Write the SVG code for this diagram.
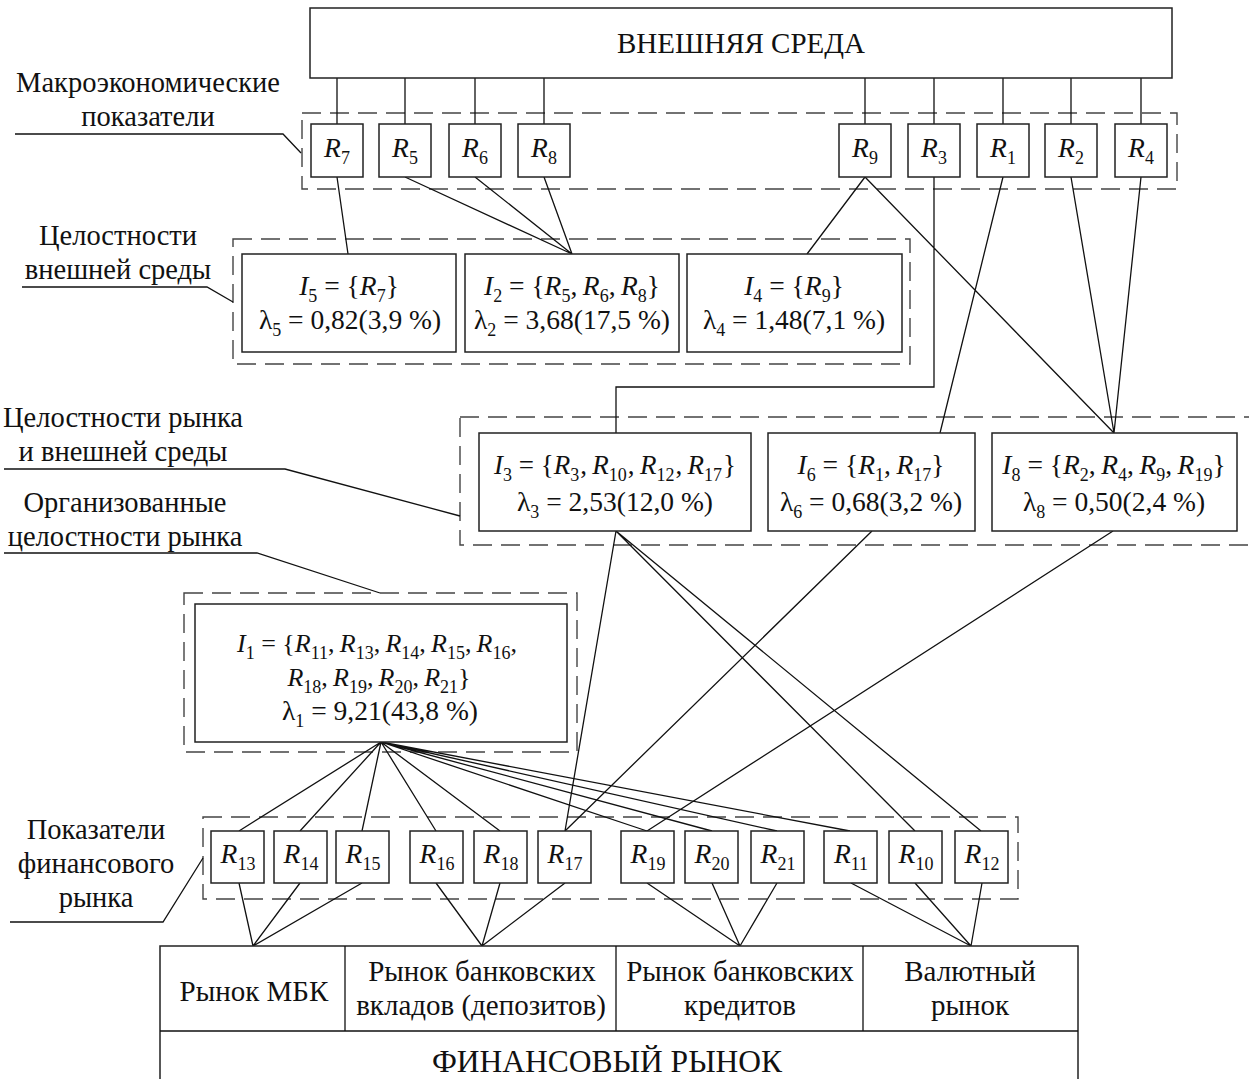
<svg xmlns="http://www.w3.org/2000/svg" width="1249" height="1079" viewBox="0 0 1249 1079">
<style>
text{font-family:"Liberation Serif","Times New Roman",serif;fill:#111;}
.lb{font-size:28.5px;text-anchor:middle;}
.mk{font-size:29px;text-anchor:middle;}
.m{font-size:27.5px;text-anchor:middle;}
.m3{font-size:27px;text-anchor:middle;}
.m2{font-size:26px;text-anchor:middle;}
.i{font-style:italic;}
.s{font-size:18px;font-style:normal;}
.box{fill:#fff;stroke:#222;stroke-width:1.5;}
.dash{fill:none;stroke:#444;stroke-width:1.4;stroke-dasharray:19 9;}
.ln{fill:none;stroke:#111;stroke-width:1.3;}
</style>
<rect width="1249" height="1079" fill="#fff"/>

<g id="region-macro"><rect class="dash" x="302" y="113" width="875" height="76"/></g>
<g id="region-ext"><rect class="dash" x="233" y="239" width="677" height="125"/></g>
<g id="region-mid"><rect class="dash" x="460" y="417" width="820" height="128"/></g>
<g id="region-org"><rect class="dash" x="184" y="593" width="393" height="159"/></g>
<g id="region-fin"><rect class="dash" x="203" y="817" width="815" height="82"/></g>

<g id="connectors" class="ln">
<path d="M337 78V124M405 78V124M475 78V124M544 78V124M865 78V124M934 78V124M1003 78V124M1071 78V124M1141 78V124"/>
<path d="M337 177L348 254M405 177L572 254M475 177L572 254M544 177L572 254M865 177L807 254"/>
<path d="M865 177L1114 433M1071 177L1114 433M1141 177L1114 433M1003 177L940 433M934 177V387H616V433"/>
<path d="M616 531L565 831M616 531L915 831M616 531L981 831M872 531L565 831M1113 531L647 831"/>
<path d="M381 742L239 831M381 742L300 831M381 742L362 831M381 742L436 831M381 742L500 831M381 742L647 831M381 742L712 831M381 742L777 831M381 742L850 831"/>
<path d="M239 883L253 946M300 883L253 946M362 883L253 946M436 883L482 946M500 883L482 946M565 883L482 946M647 883L740 946M712 883L740 946M777 883L740 946M851 883L971 946M915 883L971 946M982 883L971 946"/>
<path d="M15 134H283L301 153M22 287H207L233 302M4 469H285L460 516M4 553H257L380 593M10 922H163L203 858"/>
</g>

<g id="ext-env"><rect class="box" x="310" y="8" width="862" height="70"/><text x="741" y="53" style="font-size:29px;text-anchor:middle">ВНЕШНЯЯ СРЕДА</text></g>

<g id="lbl-macro"><text class="lb" x="148" y="92">Макроэкономические</text><text class="lb" x="148" y="126">показатели</text></g>
<g id="lbl-ext"><text class="lb" x="118" y="245">Целостности</text><text class="lb" x="118" y="279">внешней среды</text></g>
<g id="lbl-mid"><text class="lb" x="123" y="427">Целостности рынка</text><text class="lb" x="123" y="461">и внешней среды</text></g>
<g id="lbl-org"><text class="lb" x="125" y="512">Организованные</text><text class="lb" x="125" y="546">целостности рынка</text></g>
<g id="lbl-fin"><text class="lb" x="96" y="839">Показатели</text><text class="lb" x="96" y="873">финансового</text><text class="lb" x="96" y="907">рынка</text></g>

<g id="R7"><rect class="box" x="311" y="124" width="52" height="53"/><text class="m i" x="337" y="157">R<tspan class="s" dy="7">7</tspan></text></g>
<g id="R5"><rect class="box" x="379" y="124" width="52" height="53"/><text class="m i" x="405" y="157">R<tspan class="s" dy="7">5</tspan></text></g>
<g id="R6"><rect class="box" x="449" y="124" width="52" height="53"/><text class="m i" x="475" y="157">R<tspan class="s" dy="7">6</tspan></text></g>
<g id="R8"><rect class="box" x="518" y="124" width="52" height="53"/><text class="m i" x="544" y="157">R<tspan class="s" dy="7">8</tspan></text></g>
<g id="R9"><rect class="box" x="839" y="124" width="52" height="53"/><text class="m i" x="865" y="157">R<tspan class="s" dy="7">9</tspan></text></g>
<g id="R3"><rect class="box" x="908" y="124" width="52" height="53"/><text class="m i" x="934" y="157">R<tspan class="s" dy="7">3</tspan></text></g>
<g id="R1"><rect class="box" x="977" y="124" width="52" height="53"/><text class="m i" x="1003" y="157">R<tspan class="s" dy="7">1</tspan></text></g>
<g id="R2"><rect class="box" x="1045" y="124" width="52" height="53"/><text class="m i" x="1071" y="157">R<tspan class="s" dy="7">2</tspan></text></g>
<g id="R4"><rect class="box" x="1115" y="124" width="52" height="53"/><text class="m i" x="1141" y="157">R<tspan class="s" dy="7">4</tspan></text></g>

<g id="I5"><rect class="box" x="242" y="254" width="214" height="98"/>
<text class="m" x="349" y="295"><tspan class="i">I</tspan><tspan class="s" dy="7">5</tspan><tspan dy="-7"> = {</tspan><tspan class="i">R</tspan><tspan class="s" dy="7">7</tspan><tspan dy="-7">}</tspan></text>
<text class="m" x="350" y="329">λ<tspan class="s" dy="7">5</tspan><tspan dy="-7"> = 0,82(3,9 %)</tspan></text></g>
<g id="I2"><rect class="box" x="465" y="254" width="214" height="98"/>
<text class="m" x="572" y="295"><tspan class="i">I</tspan><tspan class="s" dy="7">2</tspan><tspan dy="-7"> = {</tspan><tspan class="i">R</tspan><tspan class="s" dy="7">5</tspan><tspan dy="-7">,&#8201;</tspan><tspan class="i">R</tspan><tspan class="s" dy="7">6</tspan><tspan dy="-7">,&#8201;</tspan><tspan class="i">R</tspan><tspan class="s" dy="7">8</tspan><tspan dy="-7">}</tspan></text>
<text class="m" x="572" y="329">λ<tspan class="s" dy="7">2</tspan><tspan dy="-7"> = 3,68(17,5 %)</tspan></text></g>
<g id="I4"><rect class="box" x="687" y="254" width="215" height="98"/>
<text class="m" x="794" y="295"><tspan class="i">I</tspan><tspan class="s" dy="7">4</tspan><tspan dy="-7"> = {</tspan><tspan class="i">R</tspan><tspan class="s" dy="7">9</tspan><tspan dy="-7">}</tspan></text>
<text class="m" x="794" y="329">λ<tspan class="s" dy="7">4</tspan><tspan dy="-7"> = 1,48(7,1 %)</tspan></text></g>

<g id="I3"><rect class="box" x="479" y="433" width="272" height="98"/>
<text class="m3" x="615" y="474"><tspan class="i">I</tspan><tspan class="s" dy="7">3</tspan><tspan dy="-7"> = {</tspan><tspan class="i">R</tspan><tspan class="s" dy="7">3</tspan><tspan dy="-7" dx="1">,&#8201;</tspan><tspan class="i">R</tspan><tspan class="s" dy="7">10</tspan><tspan dy="-7" dx="1">,&#8201;</tspan><tspan class="i">R</tspan><tspan class="s" dy="7">12</tspan><tspan dy="-7" dx="1">,&#8201;</tspan><tspan class="i">R</tspan><tspan class="s" dy="7">17</tspan><tspan dy="-7" dx="1">}</tspan></text>
<text class="m" x="615" y="511">λ<tspan class="s" dy="7">3</tspan><tspan dy="-7"> = 2,53(12,0 %)</tspan></text></g>
<g id="I6"><rect class="box" x="768" y="433" width="207" height="98"/>
<text class="m" x="871" y="474"><tspan class="i">I</tspan><tspan class="s" dy="7">6</tspan><tspan dy="-7"> = {</tspan><tspan class="i">R</tspan><tspan class="s" dy="7">1</tspan><tspan dy="-7">,&#8201;</tspan><tspan class="i">R</tspan><tspan class="s" dy="7">17</tspan><tspan dy="-7">}</tspan></text>
<text class="m" x="871" y="511">λ<tspan class="s" dy="7">6</tspan><tspan dy="-7"> = 0,68(3,2 %)</tspan></text></g>
<g id="I8"><rect class="box" x="992" y="433" width="245" height="98"/>
<text class="m" x="1114" y="474"><tspan class="i">I</tspan><tspan class="s" dy="7">8</tspan><tspan dy="-7"> = {</tspan><tspan class="i">R</tspan><tspan class="s" dy="7">2</tspan><tspan dy="-7">,&#8201;</tspan><tspan class="i">R</tspan><tspan class="s" dy="7">4</tspan><tspan dy="-7">,&#8201;</tspan><tspan class="i">R</tspan><tspan class="s" dy="7">9</tspan><tspan dy="-7">,&#8201;</tspan><tspan class="i">R</tspan><tspan class="s" dy="7">19</tspan><tspan dy="-7">}</tspan></text>
<text class="m" x="1114" y="511">λ<tspan class="s" dy="7">8</tspan><tspan dy="-7"> = 0,50(2,4 %)</tspan></text></g>

<g id="I1"><rect class="box" x="195" y="604" width="372" height="138"/>
<text class="m2" x="377" y="652"><tspan class="i">I</tspan><tspan class="s" dy="7">1</tspan><tspan dy="-7"> = {</tspan><tspan class="i">R</tspan><tspan class="s" dy="7">11</tspan><tspan dy="-7">,&#8201;</tspan><tspan class="i">R</tspan><tspan class="s" dy="7">13</tspan><tspan dy="-7">,&#8201;</tspan><tspan class="i">R</tspan><tspan class="s" dy="7">14</tspan><tspan dy="-7">,&#8201;</tspan><tspan class="i">R</tspan><tspan class="s" dy="7">15</tspan><tspan dy="-7">,&#8201;</tspan><tspan class="i">R</tspan><tspan class="s" dy="7">16</tspan><tspan dy="-7">,</tspan></text>
<text class="m2" x="379" y="686"><tspan class="i">R</tspan><tspan class="s" dy="7">18</tspan><tspan dy="-7">,&#8201;</tspan><tspan class="i">R</tspan><tspan class="s" dy="7">19</tspan><tspan dy="-7">,&#8201;</tspan><tspan class="i">R</tspan><tspan class="s" dy="7">20</tspan><tspan dy="-7">,&#8201;</tspan><tspan class="i">R</tspan><tspan class="s" dy="7">21</tspan><tspan dy="-7">}</tspan></text>
<text class="m" x="380" y="720">λ<tspan class="s" dy="7">1</tspan><tspan dy="-7"> = 9,21(43,8 %)</tspan></text></g>

<g id="R13"><rect class="box" x="211" y="831" width="53" height="52"/><text class="m i" x="238" y="863">R<tspan class="s" dy="7">13</tspan></text></g>
<g id="R14"><rect class="box" x="274" y="831" width="53" height="52"/><text class="m i" x="301" y="863">R<tspan class="s" dy="7">14</tspan></text></g>
<g id="R15"><rect class="box" x="336" y="831" width="53" height="52"/><text class="m i" x="363" y="863">R<tspan class="s" dy="7">15</tspan></text></g>
<g id="R16"><rect class="box" x="410" y="831" width="53" height="52"/><text class="m i" x="437" y="863">R<tspan class="s" dy="7">16</tspan></text></g>
<g id="R18"><rect class="box" x="474" y="831" width="53" height="52"/><text class="m i" x="501" y="863">R<tspan class="s" dy="7">18</tspan></text></g>
<g id="R17"><rect class="box" x="538" y="831" width="53" height="52"/><text class="m i" x="565" y="863">R<tspan class="s" dy="7">17</tspan></text></g>
<g id="R19"><rect class="box" x="621" y="831" width="53" height="52"/><text class="m i" x="648" y="863">R<tspan class="s" dy="7">19</tspan></text></g>
<g id="R20"><rect class="box" x="685" y="831" width="53" height="52"/><text class="m i" x="712" y="863">R<tspan class="s" dy="7">20</tspan></text></g>
<g id="R21"><rect class="box" x="751" y="831" width="53" height="52"/><text class="m i" x="778" y="863">R<tspan class="s" dy="7">21</tspan></text></g>
<g id="R11"><rect class="box" x="824" y="831" width="53" height="52"/><text class="m i" x="851" y="863">R<tspan class="s" dy="7">11</tspan></text></g>
<g id="R10"><rect class="box" x="889" y="831" width="53" height="52"/><text class="m i" x="916" y="863">R<tspan class="s" dy="7">10</tspan></text></g>
<g id="R12"><rect class="box" x="955" y="831" width="53" height="52"/><text class="m i" x="982" y="863">R<tspan class="s" dy="7">12</tspan></text></g>

<g id="fin-market">
<rect class="box" x="160" y="946" width="918" height="150"/>
<path class="ln" d="M160 1031H1078M345 946V1031M616 946V1031M863 946V1031"/>
<text class="mk" x="254" y="1001">Рынок МБК</text>
<text class="mk" x="482" y="981">Рынок банковских</text><text class="mk" x="481" y="1015">вкладов (депозитов)</text>
<text class="mk" x="740" y="981">Рынок банковских</text><text class="mk" x="740" y="1015">кредитов</text>
<text class="mk" x="970" y="981">Валютный</text><text class="mk" x="970" y="1015">рынок</text>
<text x="607" y="1072" style="font-size:31.5px;text-anchor:middle">ФИНАНСОВЫЙ РЫНОК</text>
</g>
</svg>
